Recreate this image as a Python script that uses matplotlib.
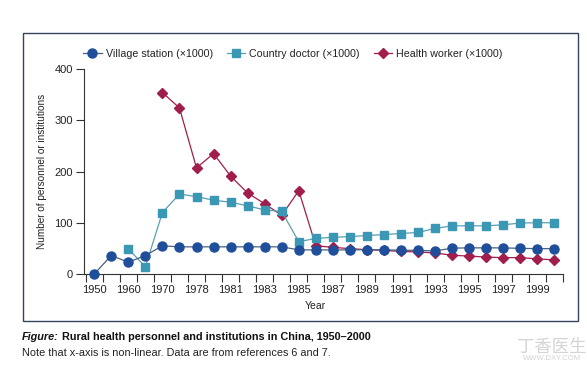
import matplotlib
matplotlib.use('Agg')
import matplotlib.pyplot as plt
from matplotlib.patches import Rectangle

# 数据 (x轴非线性, 按类别等距排列)
years = [1950, 1955, 1960, 1965, 1970, 1975, 1978, 1980] + list(range(1981, 2001))
tick_labels = ['1950', '1960', '1970', '1978', '1981', '1983', '1985', '1987',
               '1989', '1991', '1993', '1995', '1997', '1999']

village = [0, 36, 23, 36, 55, 53, 53, 53, 53, 53, 53, 53, 47, 47, 47, 47, 47.5,
           47, 46.5, 46, 45, 50.5, 51, 51, 51, 50, 49.5, 49.5]
# 1960 起
doctor = [49, 14, 120, 156, 151, 144, 140, 133, 125, 122, 63, 69.5, 71.5, 73,
          75, 77, 79, 81, 89, 94, 94, 94, 96, 99.5, 100, 100]
# 1970 起
worker = [354, 324, 207, 235, 191, 158, 137, 114.5, 162.5, 55, 52, 49.5, 47.5,
          46, 44, 43, 41, 36.5, 35, 33, 32, 32, 29.5, 27.5]

c_blue = '#1f4f9a'
c_teal = '#3a98b4'
c_red = '#a11d4b'

plt.rcParams['font.family'] = ['Liberation Sans', 'DejaVu Sans']

fig = plt.figure(figsize=(5.87, 3.69), dpi=100)
ax = fig.add_axes([84 / 587, 1 - 274 / 369, (563 - 84) / 587, (274 - 69) / 369])

x_all = list(range(len(years)))
x_doc = x_all[len(years) - len(doctor):]
x_work = x_all[len(years) - len(worker):]

ax.plot(x_work, worker, color=c_red, lw=0.9, marker='D', ms=5, mec=c_red,
        label='Health worker (×1000)', clip_on=False, zorder=3)
ax.plot(x_doc, doctor, color='#5a9fb0', lw=0.9, marker='s', ms=6, mfc=c_teal,
        mec=c_teal, label='Country doctor (×1000)', clip_on=False, zorder=4)
ax.plot(x_all, village, color='#4a5f80', lw=0.9, marker='o', ms=6.5, mfc=c_blue,
        mec=c_blue, label='Village station (×1000)', clip_on=False, zorder=5)

ax.set_xlim(-0.6, len(years) - 0.5)
ax.set_ylim(0, 400)
ax.set_yticks([0, 100, 200, 300, 400])

# 刻度在类别边界, 标签在类别中间
ax.set_xticks([i - 0.5 for i in range(len(years) + 1)])
ax.set_xticklabels([])
ax.set_xticks(x_all[::2], minor=True)
ax.set_xticklabels(tick_labels, minor=True)
ax.tick_params(axis='x', which='major', length=6, width=0.8, color='#333333')
ax.tick_params(axis='x', which='minor', length=0, pad=8, labelsize=8,
               labelcolor='#222222')
ax.tick_params(axis='y', length=6, width=0.8, labelsize=8, color='#333333',
               labelcolor='#222222', pad=2)

for s in ['top', 'right']:
    ax.spines[s].set_visible(False)
for s in ['left', 'bottom']:
    ax.spines[s].set_linewidth(0.8)
    ax.spines[s].set_color('#333333')

# 图例
h, l = ax.get_legend_handles_labels()
fig.legend(h[::-1], l[::-1], loc='center', bbox_to_anchor=(293 / 587, 1 - 54 / 369),
           ncol=3, frameon=False, fontsize=7.7, handlelength=1.7,
           handletextpad=0.4, columnspacing=1.3, labelcolor='#222222')

fig.text(42 / 587, 1 - 171.5 / 369, 'Number of personnel or institutions',
         rotation=90, ha='center', va='center', fontsize=7.2, color='#222222')
fig.text(315 / 587, 1 - 306 / 369, 'Year', ha='center', va='center',
         fontsize=7.5, color='#222222')

# 外框
fig.patches.append(Rectangle((23 / 587, 1 - 321 / 369), (578 - 23) / 587,
                             (321 - 33) / 369, transform=fig.transFigure,
                             fill=False, ec='#34445a', lw=1.0))

# 图注
t1 = fig.text(22 / 587, 1 - 337 / 369, 'Figure:', ha='left', va='center',
              fontsize=7.8, fontweight='bold', fontstyle='italic', color='#111111')
fig.canvas.draw()
bb = t1.get_window_extent()
fig.text((bb.x1 + 3) / 587, 1 - 337 / 369,
         'Rural health personnel and institutions in China, 1950–2000',
         ha='left', va='center', fontsize=7.8, fontweight='bold', color='#111111')
fig.text(22 / 587, 1 - 353 / 369,
         'Note that x-axis is non-linear. Data are from references 6 and 7.',
         ha='left', va='center', fontsize=7.8, color='#222222')

# 水印
fig.text(552 / 587, 1 - 347 / 369, '丁香医生', ha='center', va='center',
         fontsize=12.5, color='#d4d4d4', family=['Noto Sans CJK SC', 'DejaVu Sans'])
fig.text(552 / 587, 1 - 359 / 369, 'WWW.DXY.COM', ha='center', va='center',
         fontsize=5.5, color='#d4d4d4')

plt.savefig('out.png', dpi=100)
